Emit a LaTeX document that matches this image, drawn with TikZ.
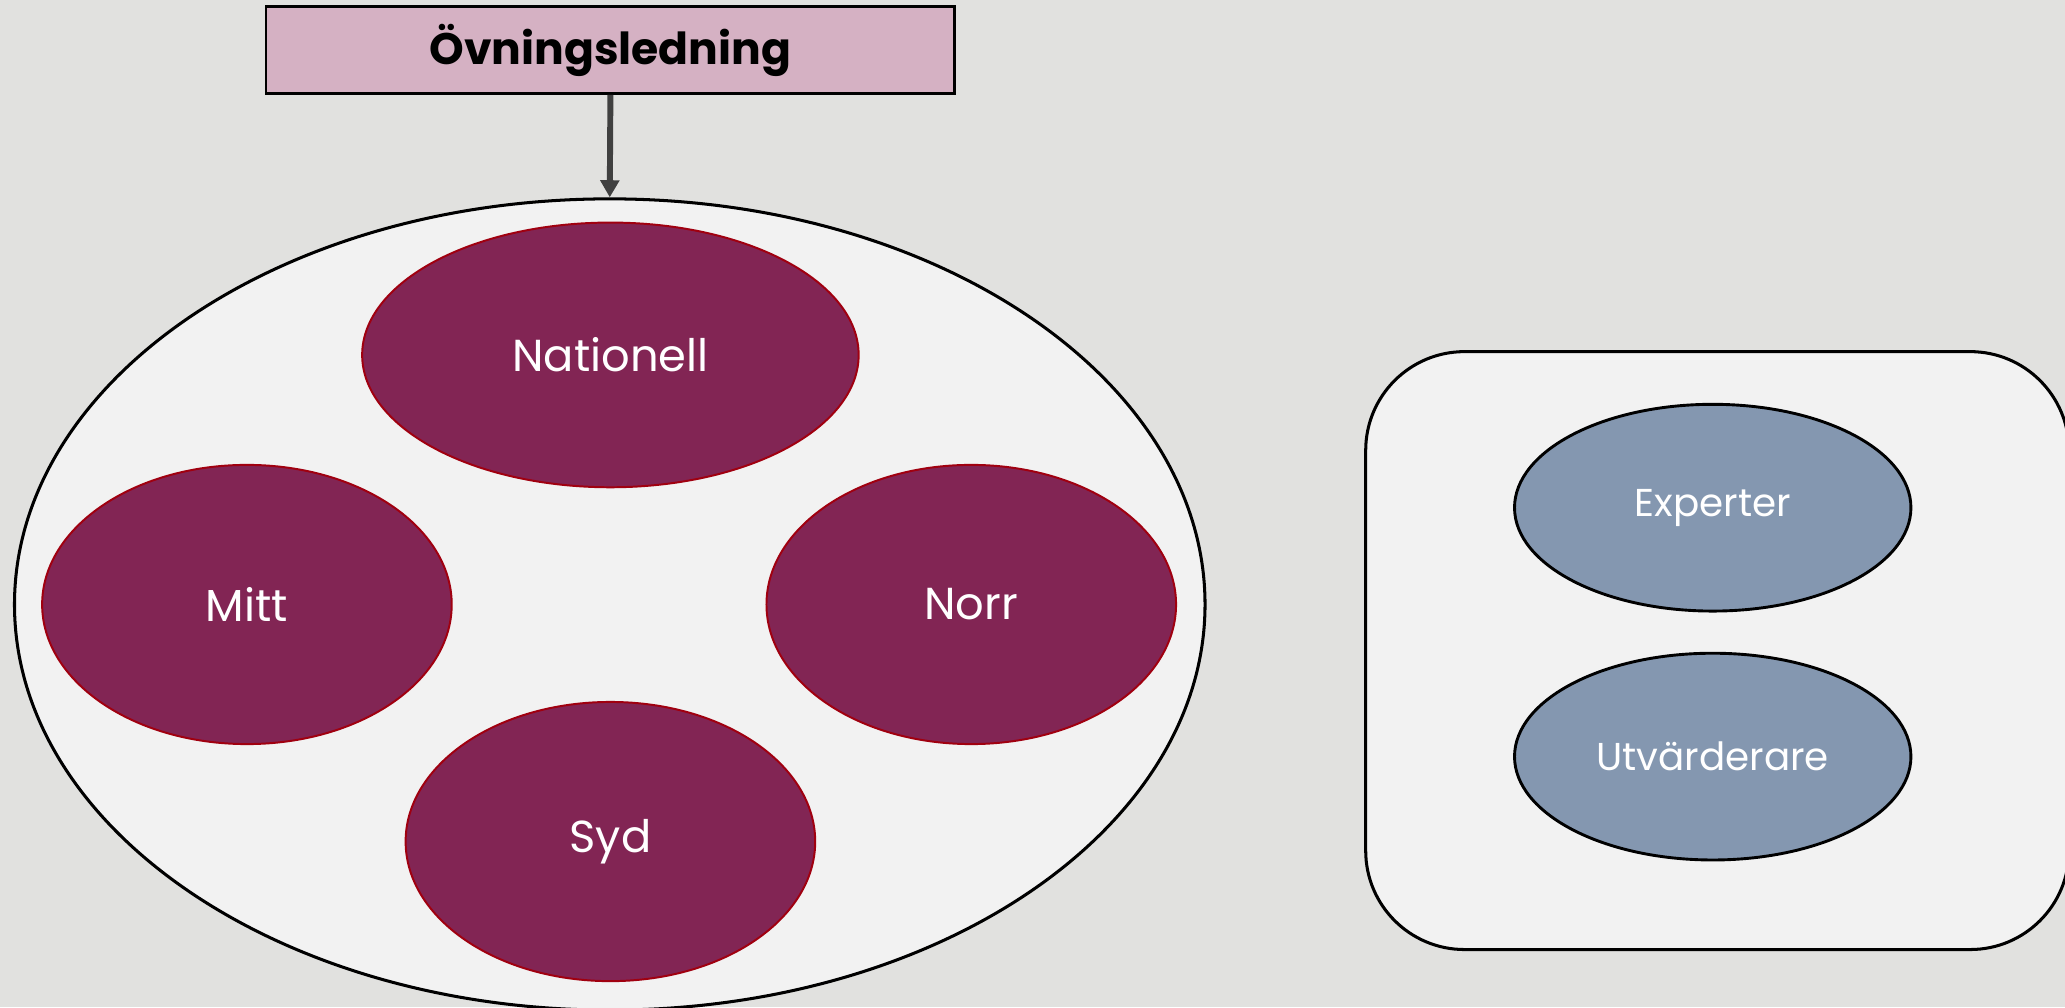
\documentclass[tikz,border=0pt]{standalone}
\usepackage{fontspec}
\setmainfont{Poppins}
\usetikzlibrary{shapes.geometric,arrows.meta}
\definecolor{bg}{HTML}{E1E1DF}
\definecolor{panel}{HTML}{F2F2F2}
\definecolor{leadfill}{HTML}{D5B1C3}
\definecolor{plum}{HTML}{822554}
\definecolor{plumline}{HTML}{A00010}
\definecolor{slate}{HTML}{8497B0}
\definecolor{arrowgray}{HTML}{404040}
\tikzset{
  region/.style={ellipse, draw=plumline, line width=1.5pt, fill=plum, text=white, inner sep=0pt, font=\fontsize{34}{40}\selectfont},
  role/.style={ellipse, draw=black, line width=2.2pt, fill=slate, text=white, inner sep=0pt, minimum width=301pt, minimum height=157pt, font=\fontsize{29.5}{35}\selectfont},
  link/.style={draw=arrowgray, line width=4.5pt, -{Triangle[length=13pt,width=14pt]}}
}
\begin{document}
\begin{tikzpicture}[x=1pt,y=-1pt]
\useasboundingbox (0,0) rectangle (1568,765);
\fill[bg] (0,0) rectangle (1568,765);
\node[draw=black, line width=2pt, fill=leadfill, minimum width=523pt, minimum height=66pt, inner sep=0pt, font=\bfseries\fontsize{33.5}{40}\selectfont] (lead) at (463.5,38) {Övningsledning};
\node[ellipse, draw=black, line width=2.3pt, fill=panel, minimum width=904pt, minimum height=616pt, inner sep=0pt] (big) at (463,459) {};
\node[region, minimum width=377pt, minimum height=201pt] (nat) at (463.5,269.5) {Nationell};
\node[region, minimum width=311pt, minimum height=212pt] (mitt) at (187.5,459) {Mitt};
\node[region, minimum width=311pt, minimum height=212pt] (norr) at (737.5,459) {Norr};
\node[region, minimum width=311pt, minimum height=212pt] (syd) at (463.5,639) {Syd};
\draw[link] (lead.south) -- (big.north);
\node[draw=black, line width=2.3pt, fill=panel, rounded corners=75pt, minimum width=534pt, minimum height=454pt, inner sep=0pt] (side) at (1304,494) {};
\node[role] (exp) at (1300.5,385.5) {Experter};
\node[role] (utv) at (1300.5,574.5) {Utvärderare};
\end{tikzpicture}
\end{document}
